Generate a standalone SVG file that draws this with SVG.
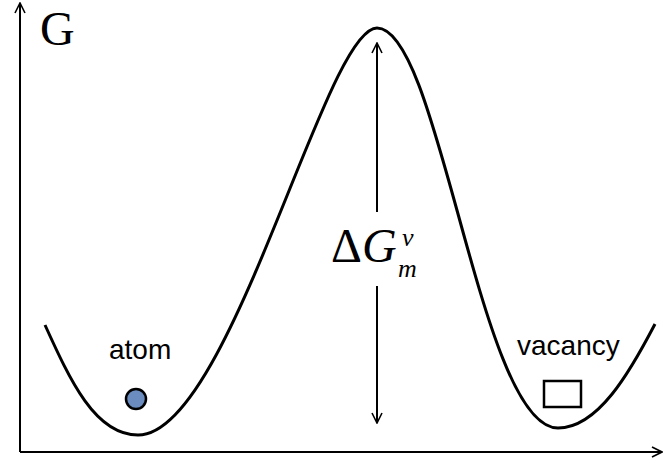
<svg xmlns="http://www.w3.org/2000/svg" width="665" height="466" viewBox="0 0 665 466">
<style>
.ax{stroke:#000;stroke-width:2;fill:none}
.crv{stroke:#000;stroke-width:3;fill:none}
.lbl{font-family:"Liberation Sans",Arial,sans-serif;font-size:28px;fill:#000}
.tm{font-family:"Liberation Serif","Times New Roman",serif;fill:#000}
</style>
<defs>
<marker id="ah" viewBox="0 0 12 12" refX="11" refY="6" markerWidth="12" markerHeight="12" markerUnits="userSpaceOnUse" orient="auto-start-reverse">
<path d="M1,1 L11,6 L1,11" fill="none" stroke="#000" stroke-width="1.6"/>
</marker>
</defs>
<g id="connectors">
<line class="ax" x1="20" y1="452" x2="20" y2="3" marker-end="url(#ah)"/>
<line class="ax" x1="20" y1="452" x2="662" y2="452" marker-end="url(#ah)"/>
<path class="crv" d="M45,325 C70,380 95,435 138,435 C230,435 325,28 377,28 C440,28 480,428 558,428 C598,428 630,372 655,324"/>
<line class="ax" x1="377" y1="212" x2="377" y2="43" marker-end="url(#ah)"/>
<line class="ax" x1="377" y1="286" x2="377" y2="423" marker-end="url(#ah)"/>
</g>
<g id="axis-label"><text class="tm" x="40" y="45" font-size="48">G</text></g>
<g id="barrier-label">
<text class="tm" x="331" y="262" font-size="48">Δ<tspan font-style="italic">G</tspan></text>
<text class="tm" x="402" y="246" font-size="26" font-style="italic">v</text>
<text class="tm" x="398" y="277" font-size="26" font-style="italic">m</text>
</g>
<g id="atom">
<text class="lbl" x="109" y="359">atom</text>
<circle cx="136" cy="399" r="10" fill="#6a8cbf" stroke="#000" stroke-width="2.5"/>
</g>
<g id="vacancy">
<text class="lbl" x="517" y="355">vacancy</text>
<rect x="544" y="381" width="37" height="26" fill="none" stroke="#000" stroke-width="2.5"/>
</g>
</svg>
